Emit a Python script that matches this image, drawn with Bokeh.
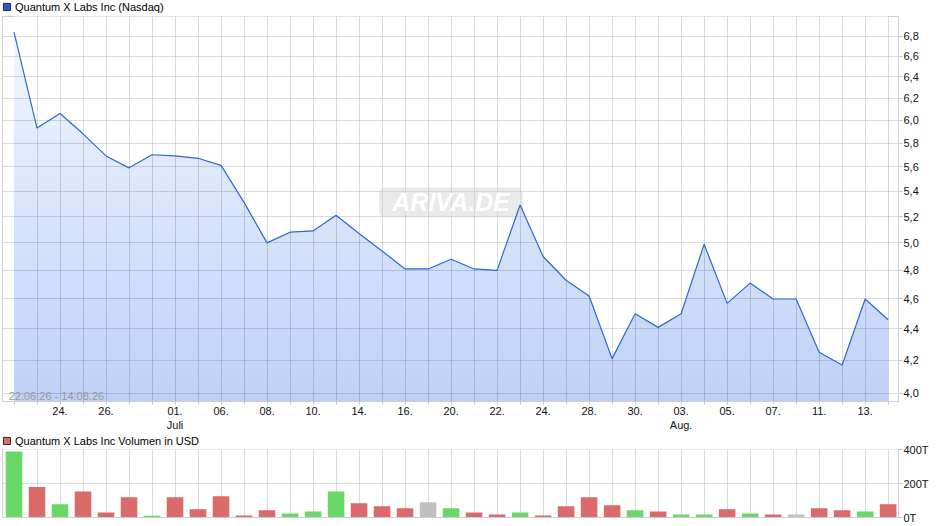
import numpy as np
from bokeh.plotting import figure
from bokeh.layouts import column
from bokeh.models import (Range1d, FixedTicker, CustomJSTickFormatter, Legend,
                          LegendItem, Label, LinearAxis, BoxAnnotation)
from bokeh.embed import file_html
from bokeh.resources import INLINE

# ---------------- data ----------------
dates = ["22.06.26", "23.06.26", "24.06.26", "25.06.26", "26.06.26", "29.06.26", "30.06.26",
         "01.07.26", "02.07.26", "06.07.26", "07.07.26", "08.07.26", "09.07.26", "10.07.26",
         "13.07.26", "14.07.26", "15.07.26", "16.07.26", "17.07.26", "20.07.26", "21.07.26",
         "22.07.26", "23.07.26", "24.07.26", "27.07.26", "28.07.26", "29.07.26", "30.07.26",
         "31.07.26", "03.08.26", "04.08.26", "05.08.26", "06.08.26", "07.08.26", "10.08.26",
         "11.08.26", "12.08.26", "13.08.26", "14.08.26"]

close = [6.84, 5.93, 6.06, 5.88, 5.69, 5.59, 5.70, 5.69, 5.67, 5.61,
         5.31, 5.00, 5.08, 5.09, 5.21, 5.07, 4.94, 4.81, 4.81, 4.88,
         4.81, 4.80, 5.29, 4.90, 4.73, 4.62, 4.21, 4.50, 4.41, 4.50,
         4.99, 4.57, 4.71, 4.60, 4.60, 4.25, 4.17, 4.60, 4.46]

volume_t = [388, 179, 78, 153, 30, 119, 10, 119, 48, 125,
            12, 42, 24, 36, 153, 84, 66, 54, 90, 54,
            30, 18, 30, 12, 66, 119, 72, 42, 36, 18,
            18, 48, 24, 18, 18, 54, 42, 36, 78]

vol_dir = ["up", "down", "up", "down", "down", "down", "up", "down", "down", "down",
           "down", "down", "up", "up", "up", "down", "down", "down", "flat", "up",
           "down", "down", "up", "down", "down", "down", "down", "up", "down", "up",
           "up", "down", "up", "down", "flat", "down", "down", "up", "down"]

tick_pos = [2, 4, 7, 9, 11, 13, 15, 17, 19, 21, 23, 25, 27, 29, 31, 33, 35, 37]
tick_labels = ["24.", "26.", "01.\nJuli", "06.", "08.", "10.", "14.", "16.", "20.",
               "22.", "24.", "28.", "30.", "03.\nAug.", "05.", "07.", "11.", "13."]

price_ticks = [4.0, 4.2, 4.4, 4.6, 4.8, 5.0, 5.2, 5.4, 5.6, 5.8, 6.0, 6.2, 6.4, 6.6, 6.8]
volume_ticks = [0, 200, 400]

title_price = "Quantum X Labs Inc (Nasdaq)"
title_volume = "Quantum X Labs Inc Volumen in USD"
period_text = "22.06.26 - 14.08.26"
watermark = "ARIVA.DE"

# ---------------- styles ----------------
FONT = "Liberation Sans"
BORDER = "#cfcfcf"
TICKC = "#c8c8c8"
GRID_ALPHA = 0.14
DIR_COLORS = {"up": "#69d869", "down": "#db6a6a", "flat": "#c0c0c0"}
X_START, X_END = -0.5, 38.45
Y_MIN, Y_MAX = 3.95, 7.0

W = 940
B_LEFT, B_RIGHT = 2, 42
H_HEAD = 15
P_H, P_TOP, P_BOT = 419, 1, 33
V_FRAME, V_BOT = 83, 6
V_PLOT_PX = 68                      # pixel height of the 0..400T band
V_TOP_VAL = volume_ticks[-1] * V_FRAME / V_PLOT_PX

x = list(range(len(close)))


def make_legend(renderer, label):
    return Legend(items=[LegendItem(label=label, renderers=[renderer])],
                  location="top_left", orientation="horizontal",
                  padding=0, margin=0, spacing=0,
                  glyph_width=9, glyph_height=9, label_height=13, label_standoff=4,
                  label_text_font=FONT, label_text_font_size="11px",
                  label_text_color="#000000",
                  border_line_color=None, background_fill_alpha=0)


def legend_proxy(fig, xr, fill, line):
    # a swatch-only renderer placed outside the visible x range (never drawn)
    lo = xr.start - 3
    return fig.quad(left=[lo], right=[lo + 1], bottom=[0], top=[1],
                    fill_color=fill, line_color=line, line_width=1)


def style_yaxis(ax):
    ax.major_tick_out = 4
    ax.major_tick_in = 0
    ax.minor_tick_line_color = None
    ax.major_tick_line_color = TICKC
    ax.axis_line_color = BORDER
    ax.major_label_standoff = 1
    ax.major_label_text_font = FONT
    ax.major_label_text_font_size = "11px"
    ax.major_label_text_color = "#111111"


def blank_axis(ax):
    ax.ticker = FixedTicker(ticks=[])
    ax.major_tick_out = 0
    ax.major_tick_in = 0
    ax.minor_tick_line_color = None
    ax.major_label_text_font_size = "0px"
    ax.major_label_standoff = 0
    ax.axis_line_color = BORDER


# ---------------- header row (price legend) ----------------
head_xr = Range1d(0, 1)
head = figure(width=W, height=H_HEAD, x_range=head_xr, y_range=Range1d(0, 1),
              x_axis_location=None, y_axis_location=None,
              output_backend="svg", toolbar_location=None,
              min_border_left=B_LEFT, min_border_right=0, min_border_top=0, min_border_bottom=0,
              outline_line_color=None, background_fill_color="white",
              border_fill_color="white")
head.xgrid.visible = False
head.ygrid.visible = False
proxy_h = legend_proxy(head, head_xr, "#2a5cbf", "#102a66")
head.add_layout(make_legend(proxy_h, title_price))

# ---------------- price chart ----------------
p = figure(width=W, height=P_H,
           x_range=Range1d(X_START, X_END), y_range=Range1d(Y_MIN, Y_MAX),
           y_axis_type="log", y_axis_location="right",
           output_backend="svg", toolbar_location=None,
           min_border_left=B_LEFT, min_border_right=B_RIGHT,
           min_border_top=P_TOP, min_border_bottom=P_BOT,
           background_fill_color="white", border_fill_color="white",
           outline_line_color=BORDER)

# vertical gradient under the price line
nrow = 256
t = np.linspace(0.0, 1.0, nrow)
c_bot = np.array([189, 209, 247], dtype=float)
c_top = np.array([245, 249, 255], dtype=float)
rgb = np.round(c_bot[None, :] + (c_top - c_bot)[None, :] * t[:, None]).astype(np.uint8)
img = np.empty((nrow, 2), dtype=np.uint32)
view = img.view(dtype=np.uint8).reshape((nrow, 2, 4))
for k in range(3):
    view[:, :, k] = rgb[:, k][:, None]
view[:, :, 3] = 255
p.image_rgba(image=[img], x=x[0], y=Y_MIN, dw=x[-1] - x[0], dh=Y_MAX - Y_MIN, level="image")
# white mask above the price line
p.varea(x=x, y1=close, y2=[Y_MAX] * len(x), fill_color="white", level="image")

p.line(x, close, line_color="#3067cc", line_width=1.2)

xa = p.xaxis[0]
xa.ticker = FixedTicker(ticks=x)
overrides = {i: "" for i in x}
overrides.update({pos: lab for pos, lab in zip(tick_pos, tick_labels)})
xa.major_label_overrides = overrides
xa.major_tick_out = 3
xa.major_tick_in = 0
xa.minor_tick_line_color = None
xa.major_tick_line_color = TICKC
xa.axis_line_color = BORDER
xa.major_label_standoff = 0
xa.major_label_text_font = FONT
xa.major_label_text_font_size = "11px"
xa.major_label_text_color = "#111111"

ya = p.yaxis[0]
ya.ticker = FixedTicker(ticks=price_ticks)
ya.formatter = CustomJSTickFormatter(code="return tick.toFixed(1).replace('.', ',');")
style_yaxis(ya)

p.xgrid.ticker = FixedTicker(ticks=x[1:])
p.xgrid.grid_line_color = "black"
p.xgrid.grid_line_alpha = GRID_ALPHA
p.ygrid.grid_line_color = "black"
p.ygrid.grid_line_alpha = GRID_ALPHA

p.add_layout(Label(x=-0.23, y=Y_MIN, text=period_text, text_font=FONT,
                   text_font_size="11px", text_color="#9a9a9a",
                   text_align="left", text_baseline="bottom"))

p.add_layout(Label(x=19, y=5.31, text=watermark, text_font=FONT,
                   text_font_size="25px", text_font_style="bold italic",
                   text_color="white", text_align="center", text_baseline="middle",
                   background_fill_color="#d6d6d6", background_fill_alpha=0.5,
                   padding=dict(left=13, right=13, top=1, bottom=1),
                   border_radius=6, level="underlay"))

# ---------------- volume chart (legend row lives in its top band) ----------------
v_xr = Range1d(X_START, X_END)
v = figure(width=W, height=V_FRAME + V_BOT,
           x_range=v_xr, y_range=Range1d(volume_ticks[0], V_TOP_VAL),
           y_axis_location="right", x_axis_location="below",
           output_backend="svg", toolbar_location=None,
           min_border_left=B_LEFT, min_border_right=B_RIGHT,
           min_border_top=0, min_border_bottom=V_BOT,
           background_fill_color="white", border_fill_color="white",
           outline_line_color=None)

bar_colors = [DIR_COLORS[d] for d in vol_dir]
v.vbar(x=x, top=volume_t, width=0.72, fill_color=bar_colors, line_color=None)

vya = v.yaxis[0]
vya.ticker = FixedTicker(ticks=volume_ticks)
vya.formatter = CustomJSTickFormatter(code="return tick.toFixed(0) + 'T';")
vya.bounds = (volume_ticks[0], volume_ticks[-1])
style_yaxis(vya)

blank_axis(v.xaxis[0])
left_ax = LinearAxis()
blank_axis(left_ax)
left_ax.bounds = (volume_ticks[0], volume_ticks[-1])
v.add_layout(left_ax, "left")

v.xgrid.ticker = FixedTicker(ticks=x[1:])
v.xgrid.grid_line_color = "black"
v.xgrid.grid_line_alpha = GRID_ALPHA
v.ygrid.grid_line_color = "black"
v.ygrid.grid_line_alpha = GRID_ALPHA

# white band above the 400T line hides the grid behind the legend row
v.add_layout(BoxAnnotation(bottom=volume_ticks[-1], fill_color="white", fill_alpha=1.0,
                           line_alpha=0))
proxy_v = legend_proxy(v, v_xr, DIR_COLORS["down"], "#222222")
v.add_layout(make_legend(proxy_v, title_volume))

layout = column(head, p, v)
open("out.html", "w").write(file_html(layout, INLINE))
